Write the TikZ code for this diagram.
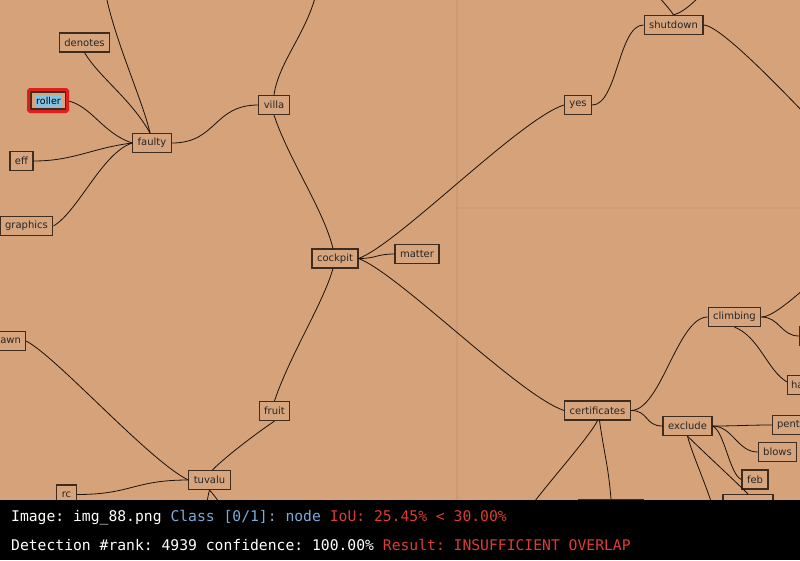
\documentclass[tikz,border=0pt]{standalone}
\usepackage{fontspec}
\setmainfont{DejaVu Sans}
\newfontfamily\monof{DejaVu Sans Mono}
\frenchspacing
\definecolor{paper}{RGB}{213,162,121}
\definecolor{boxfill}{RGB}{215,165,125}
\definecolor{boxline}{RGB}{62,44,30}
\definecolor{edgec}{RGB}{25,18,12}
\definecolor{foldc}{RGB}{200,145,105}
\definecolor{hiblue}{RGB}{126,196,232}
\definecolor{hired}{RGB}{225,30,30}
\definecolor{barblue}{RGB}{125,170,215}
\definecolor{barred}{RGB}{220,60,55}
\tikzset{
 nd/.style={draw=boxline, line width=1.2pt, fill=boxfill, text=black!85, font=\fontsize{10}{12}\selectfont, inner xsep=5pt, inner ysep=0pt, minimum height=19pt},
 edge/.style={draw=edgec, line width=0.8pt},
 bartext/.style={anchor=base west, inner sep=0pt, font=\monof\fontsize{14.7}{16}\selectfont, text=white}
}
\begin{document}
\begin{tikzpicture}[x=1pt,y=-1pt]
\useasboundingbox (0,0) rectangle (800,560);
\clip (0,0) rectangle (800,560);
\fill[paper] (0,0) rectangle (800,500);
\draw[foldc, line width=1.2pt, opacity=0.45] (457,0) -- (457,500);
\draw[foldc, line width=1.2pt, opacity=0.35] (457,208) -- (800,208);

% nodes
\node[nd] (denotes) at (84.5,42.5) {denotes};
\node[nd, minimum height=17pt, minimum width=35pt] (roller) at (48.5,100.5) {};
\node[fill=hiblue, rounded corners=1.5pt, inner xsep=1pt, inner ysep=0pt, minimum height=11pt, font=\fontsize{9.5}{10}\selectfont] (rollertxt) at (48.5,101) {roller};
\node[nd] (eff) at (21.5,161) {eff};
\node[nd] (graphics) at (26.5,226) {graphics};
\node[nd] (faulty) at (152,143) {faulty};
\node[nd] (villa) at (274,105) {villa};
\node[nd] (cockpit) at (335,258.5) {cockpit};
\node[nd] (matter) at (417,254) {matter};
\node[nd] (yes) at (578,105) {yes};
\node[nd] (shutdown) at (673.5,25) {shutdown};
\node[nd] (climbing) at (734.5,317) {climbing};
\node[nd, anchor=west, minimum width=40pt] (rnode) at (799,336) {};
\node[nd, anchor=west, text width=30pt, align=left, inner xsep=3.5pt] (ha) at (787,385) {ha};
\node[nd, anchor=west, text width=40pt, align=left, inner xsep=4.5pt] (pent) at (772,425) {pent};
\node[nd] (certificates) at (597.5,410.5) {certificates};
\node[nd] (exclude) at (687.5,426) {exclude};
\node[nd] (blows) at (777.5,452) {blows};
\node[nd] (feb) at (755,479.5) {feb};
\node[nd, anchor=north, minimum width=50pt] (bbtwo) at (748,494) {};
\node[nd, anchor=north, minimum width=64pt] (bbone) at (611,499) {};
\node[nd] (fruit) at (274.5,411) {fruit};
\node[nd] (tuvalu) at (209.5,480) {tuvalu};
\node[nd, anchor=east, text width=40pt, align=right, inner xsep=4.5pt] (awn) at (26,341) {awn};
\node[nd] (rc) at (66.5,494.5) {rc};

% off-picture ends
\coordinate (tA) at (104,-15);
\coordinate (tB) at (318,-15);
\coordinate (tC) at (652,-12);
\coordinate (tD) at (708,-15);
\coordinate (rE) at (830,140);
\coordinate (rF) at (825,272);
\coordinate (bG) at (205,520);
\coordinate (bH) at (230,520);
\coordinate (bI) at (522,520);
\coordinate (bJ) at (716,520);

% edges
\draw[edge] ([xshift=-2pt]faulty.north) .. controls +(-8,-35) and +(8,50) .. (tA);
\draw[edge] (denotes.south) .. controls +(15,25) and +(-20,-35) .. ([xshift=-2pt]faulty.north);
\draw[edge] (roller.east) .. controls +(25,5) and +(-30,-10) .. (faulty.west);
\draw[edge] (eff.east) .. controls +(40,0) and +(-40,5) .. (faulty.west);
\draw[edge] (graphics.east) .. controls +(25,-15) and +(-30,10) .. (faulty.west);
\draw[edge] (faulty.east) .. controls +(45,0) and +(-45,0) .. (villa.west);
\draw[edge] (villa.north) .. controls +(5,-35) and +(-8,45) .. (tB);
\draw[edge] (villa.south) .. controls +(15,45) and +(-10,-40) .. ([xshift=-2pt]cockpit.north);
\draw[edge] (cockpit.east) .. controls +(18,0) and +(-18,0) .. (matter.west);
\draw[edge] (cockpit.east) .. controls +(40,-15) and +(-45,15) .. (yes.west);
\draw[edge] (cockpit.east) .. controls +(40,15) and +(-45,-15) .. (certificates.west);
\draw[edge] ([xshift=-2pt]cockpit.south) .. controls +(-10,35) and +(15,-45) .. (fruit.north);
\draw[edge] (fruit.south) .. controls +(-15,10) and +(15,-15) .. ([xshift=3pt]tuvalu.north);
\draw[edge] (awn.east) .. controls +(30,15) and +(-40,-20) .. (tuvalu.west);
\draw[edge] (rc.east) .. controls +(55,0) and +(-55,0) .. (tuvalu.west);
\draw[edge] (tuvalu.south) .. controls +(-3,10) and +(2,-10) .. (bG);
\draw[edge] (tuvalu.south) .. controls +(5,5) and +(-5,-10) .. (bH);
\draw[edge] (yes.east) .. controls +(25,0) and +(-25,0) .. (shutdown.west);
\draw[edge] (shutdown.north) .. controls +(-5,-8) and +(5,8) .. (tC);
\draw[edge] (shutdown.north) .. controls +(12,-3) and +(-6,10) .. (tD);
\draw[edge] (shutdown.east) .. controls +(20,0) and +(-20,-20) .. (rE);
\draw[edge] (certificates.east) .. controls +(30,0) and +(-30,0) .. (climbing.west);
\draw[edge] (certificates.east) .. controls +(18,0) and +(-18,0) .. (exclude.west);
\draw[edge] (certificates.south) .. controls +(-10,20) and +(10,-20) .. (bI);
\draw[edge] ([xshift=2pt]certificates.south) .. controls +(5,35) and +(-3,-35) .. (bbone.north);
\draw[edge] (climbing.east) .. controls +(15,0) and +(-15,10) .. (rF);
\draw[edge] (climbing.east) .. controls +(18,0) and +(-18,0) .. (rnode.west);
\draw[edge] (climbing.south) .. controls +(25,10) and +(-20,-12) .. ([yshift=3pt]ha.west);
\draw[edge] (exclude.east) .. controls +(25,0) and +(-25,0) .. (pent.west);
\draw[edge] (exclude.east) .. controls +(20,0) and +(-20,0) .. (blows.west);
\draw[edge] (exclude.east) .. controls +(12,5) and +(-12,-5) .. (feb.west);
\draw[edge] (exclude.south) .. controls +(15,15) and +(-15,-15) .. (bbtwo.north);
\draw[edge] (exclude.south) .. controls +(5,20) and +(-3,-20) .. (bJ);

% highlight frame
\draw[hired, line width=3pt, rounded corners=1.5pt] (28.5,89.5) rectangle (67.5,111.5);

% bottom bar
\fill[black] (0,500) rectangle (800,560);
\node[bartext] (lineone) at (11,521) {Image: img\_88.png \textcolor{barblue}{Class [0/1]: node} \textcolor{barred}{IoU: 25.45\% < 30.00\%}};
\node[bartext] (linetwo) at (11,550) {Detection \#rank: 4939 confidence: 100.00\% \textcolor{barred}{Result: INSUFFICIENT OVERLAP}};
\end{tikzpicture}
\end{document}
